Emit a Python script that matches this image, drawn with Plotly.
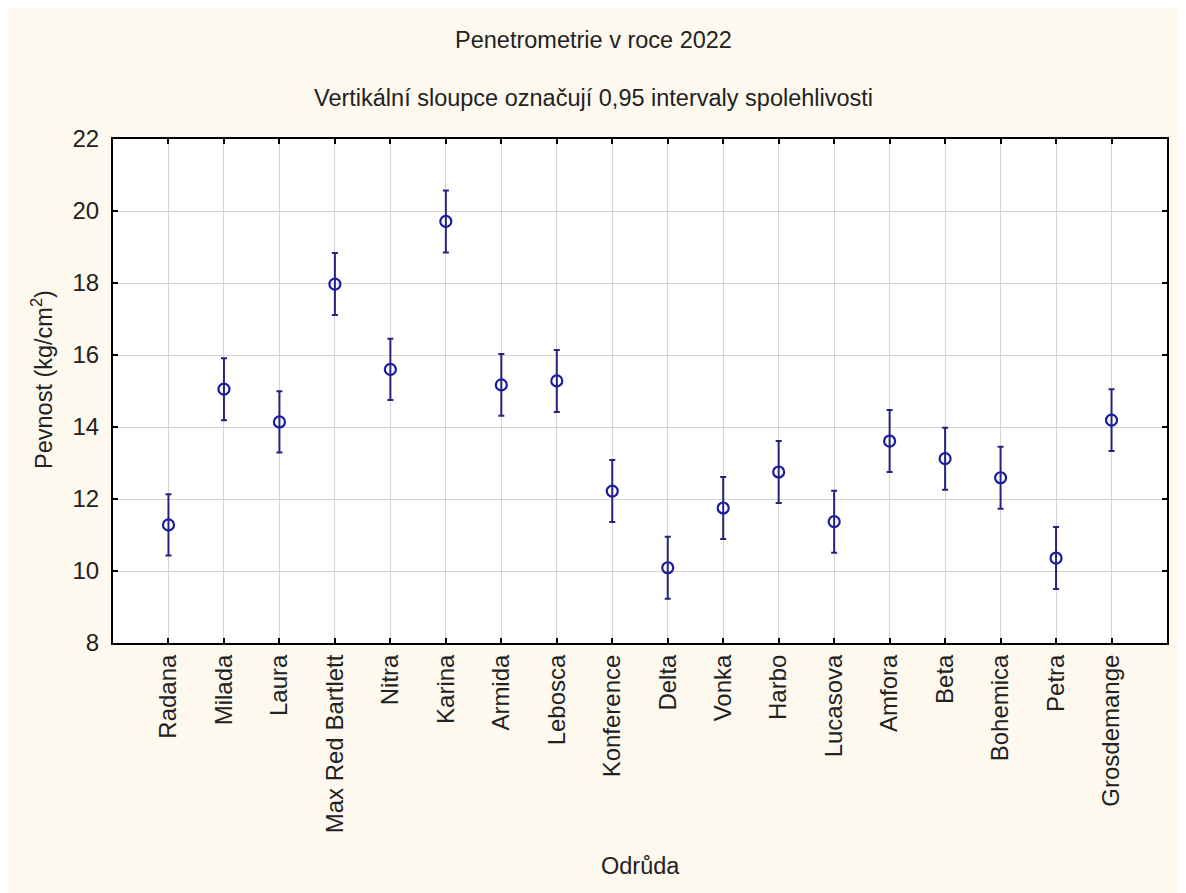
import plotly.graph_objects as go

categories = ["Radana", "Milada", "Laura", "Max Red Bartlett", "Nitra", "Karina",
              "Armida", "Lebosca", "Konference", "Delta", "Vonka", "Harbo",
              "Lucasova", "Amfora", "Beta", "Bohemica", "Petra", "Grosdemange"]
means = [11.28, 15.05, 14.14, 17.97, 15.60, 19.71, 15.17, 15.28, 12.22,
         10.09, 11.75, 12.75, 11.37, 13.61, 13.12, 12.59, 10.36, 14.19]
ci_half = [0.85, 0.86, 0.85, 0.86, 0.85, 0.86, 0.86, 0.86, 0.86,
           0.86, 0.86, 0.86, 0.86, 0.86, 0.86, 0.86, 0.86, 0.86]
y_ticks = [8, 10, 12, 14, 16, 18, 20, 22]

FONT = "Liberation Sans, Arial, sans-serif"
CREAM = "#FDF9EE"
TXT = "#222222"

# plot area in page pixels: left 113, right 1167, top 139, bottom 643
PW, PH = 1054, 504


def px(xp):
    return (xp - 113) / PW


def py(yp):
    return (643 - yp) / PH


fig = go.Figure()
fig.add_trace(go.Scatter(
    x=categories, y=means, mode="markers",
    marker=dict(symbol="circle-open", size=11, color="#1c1ca0",
                line=dict(width=2.2, color="#1c1ca0")),
    error_y=dict(type="data", array=ci_half, visible=True,
                 color="#24247e", thickness=2, width=3),
    showlegend=False,
))

axis_common = dict(showline=True, linecolor="black", linewidth=2, mirror="ticks",
                   ticks="inside", ticklen=5, tickwidth=2, tickcolor="black",
                   showgrid=True, gridcolor="#d4d4d4", gridwidth=1, zeroline=False,
                   tickfont=dict(family=FONT, size=24, color=TXT))

fig.update_xaxes(type="category", categoryorder="array", categoryarray=categories,
                 range=[-1, len(categories)], tickangle=-90, **axis_common)
fig.update_yaxes(range=[8, 22], tickvals=y_ticks, ticklabelstandoff=7, **axis_common)

fig.update_layout(
    width=1178, height=885,
    margin=dict(l=105, r=19, t=131, b=250),
    paper_bgcolor=CREAM, plot_bgcolor="white",
    annotations=[
        dict(text="Penetrometrie v roce 2022", xref="paper", yref="paper",
             x=px(593), y=py(40), showarrow=False,
             font=dict(family=FONT, size=23.5, color=TXT),
             xanchor="center", yanchor="middle"),
        dict(text="Vertikální sloupce označují 0,95 intervaly spolehlivosti",
             xref="paper", yref="paper", x=px(593), y=py(98), showarrow=False,
             font=dict(family=FONT, size=23.5, color=TXT),
             xanchor="center", yanchor="middle"),
        dict(text="Pevnost (kg/cm<sup>2</sup>)", xref="paper", yref="paper",
             x=px(42), y=py(380), textangle=-90, showarrow=False,
             font=dict(family=FONT, size=23.5, color=TXT),
             xanchor="center", yanchor="middle"),
        dict(text="Odrůda", xref="paper", yref="paper",
             x=0.5, y=py(866), showarrow=False,
             font=dict(family=FONT, size=23.5, color=TXT),
             xanchor="center", yanchor="middle"),
    ],
)

fig.write_html("out.html")
